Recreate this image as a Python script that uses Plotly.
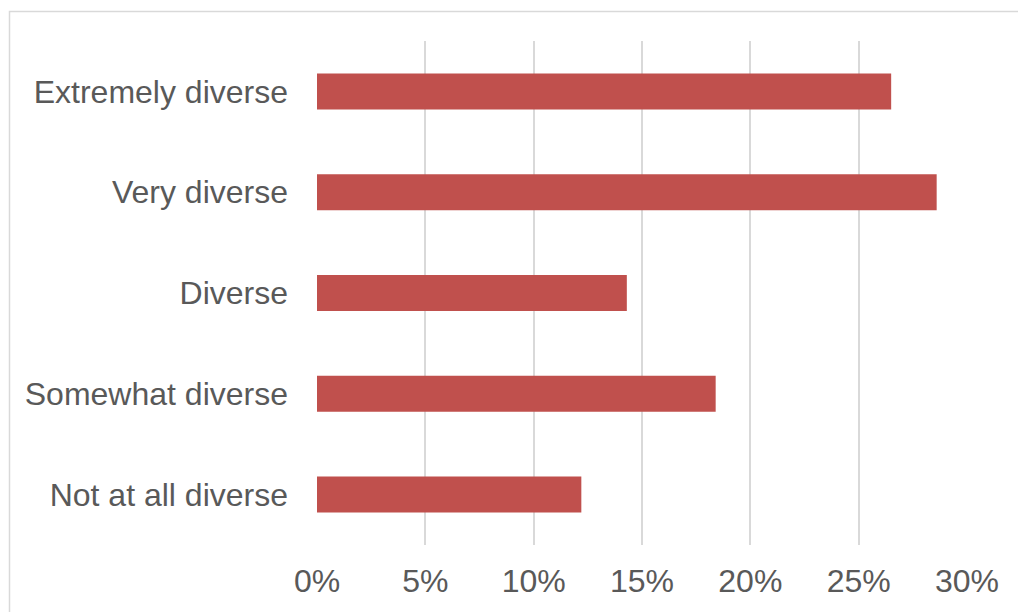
import plotly.graph_objects as go

# Share of respondents by perceived diversity level
categories = ["Extremely diverse", "Very diverse", "Diverse", "Somewhat diverse", "Not at all diverse"]
shares = [26.5, 28.6, 14.3, 18.4, 12.2]
tick_values = [0, 5, 10, 15, 20, 25, 30]
tick_labels = ["0%", "5%", "10%", "15%", "20%", "25%", "30%"]

FONT = "Liberation Sans, Arial, sans-serif"
TEXT = "#595959"
GRID = "#D9D9D9"

fig = go.Figure(
    go.Bar(
        x=shares,
        y=categories,
        orientation="h",
        marker=dict(color="#C0504D", line=dict(width=0)),
        hoverinfo="skip",
    )
)

W, H = 1018, 612
L, R, T, B = 317, 51, 41, 67
pw, ph = W - L - R, H - T - B

# outer chart frame (runs off the right and bottom edges)
fig.add_shape(
    type="rect",
    xref="paper", yref="paper",
    x0=(9.5 - L) / pw, x1=(W + 20 - L) / pw,
    y0=-(B + 20) / ph, y1=1 + (T - 11.5) / ph,
    line=dict(color=GRID, width=1.5),
    fillcolor="rgba(0,0,0,0)",
    layer="below",
)

fig.update_layout(
    width=W, height=H,
    margin=dict(l=L, r=R, t=T, b=B, pad=0),
    paper_bgcolor="white",
    plot_bgcolor="white",
    bargap=0.643,
    showlegend=False,
    font=dict(family=FONT, size=32, color=TEXT),
    xaxis=dict(
        range=[0, 30],
        tickvals=tick_values,
        ticktext=tick_labels,
        showgrid=True,
        gridcolor=GRID,
        gridwidth=1.5,
        zeroline=False,
        showline=False,
        ticks="",
        ticklabelstandoff=14,
        tickfont=dict(family=FONT, size=32, color=TEXT),
        fixedrange=True,
    ),
    yaxis=dict(
        categoryorder="array",
        categoryarray=categories[::-1],
        showgrid=False,
        zeroline=False,
        showline=False,
        ticks="",
        ticklabelstandoff=28,
        tickfont=dict(family=FONT, size=32, color=TEXT),
        fixedrange=True,
    ),
)

fig.write_html("out.html")
